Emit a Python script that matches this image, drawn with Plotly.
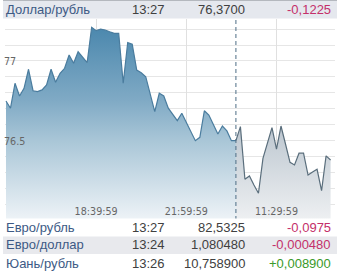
import plotly.graph_objects as go

W, H = 339, 276

# ---- data -------------------------------------------------------------
slot_index = list(range(73))  # 10-minute slots
usd_rub = [76.748, 76.703, 76.860, 76.780, 76.828, 76.948, 76.813, 76.807, 76.818, 76.849,
           76.948, 76.866, 76.923, 76.954, 77.038, 76.986, 77.058, 77.023, 76.989, 77.212,
           77.191, 77.200, 77.195, 77.184, 77.174, 77.174, 76.860, 77.115, 77.105, 76.943,
           76.926, 76.901, 76.792, 76.681, 76.797, 76.780, 76.703, 76.664, 76.625, 76.671,
           76.612, 76.555, 76.499, 76.520, 76.687, 76.660, 76.601, 76.541, 76.591, 76.560,
           76.499, 76.499, 76.587, 76.256, 76.277, 76.220, 76.168, 76.388, 76.482, 76.581,
           76.445, 76.591, 76.478, 76.363, 76.346, 76.420, 76.420, 76.283, 76.302, 76.319,
           76.184, 76.403, 76.377]
day_split = 51
tick_slots = [0, 20, 40, 60]
tick_labels = ["", "18:39:59", "21:59:59", "11:29:59"]

pairs = ["Доллар/рубль", "Евро/рубль", "Евро/доллар", "Юань/рубль"]
times = ["13:27", "13:27", "13:24", "13:26"]
rates = ["76,3700", "82,5325", "1,080480", "10,758900"]
changes = ["-0,1225", "-0,0975", "-0,000480", "+0,008900"]


def px(x):
    return x / W


def py(y):
    return 1 - y / H


fig = go.Figure()

fig.add_trace(go.Scatter(
    x=slot_index[:day_split + 1], y=usd_rub[:day_split + 1],
    mode="lines", line=dict(color="#4a7c9e", width=1.2),
    fill="tozeroy",
    fillgradient=dict(type="vertical", start=76.0, stop=77.22,
                      colorscale=[[0, "#eef3f7"], [0.41, "#a9c6d7"],
                                  [0.615, "#80aac5"], [1, "#4a87ad"]]),
    hoverinfo="skip", showlegend=False))

fig.add_trace(go.Scatter(
    x=slot_index[day_split:], y=usd_rub[day_split:],
    mode="lines", line=dict(color="#5a6e7c", width=1.2),
    fill="tozeroy",
    fillgradient=dict(type="vertical", start=76.0, stop=77.22,
                      colorscale=[[0, "#eef0f2"], [0.41, "#c4cdd5"],
                                  [0.6, "#acb9c4"], [1, "#8fa4b4"]]),
    hoverinfo="skip", showlegend=False))

y_bot, y_top = 220, 19
shapes = [
    dict(type="line", xref="x", yref="paper", x0=day_split, x1=day_split,
         y0=py(y_bot), y1=py(y_top), line=dict(color="#4d6d85", width=1, dash="4px,3px"),
         layer="above"),
    # table cover under the chart
    dict(type="rect", xref="paper", yref="paper", x0=0, x1=1, y0=0, y1=py(218.5),
         fillcolor="white", line=dict(width=0), layer="above"),
    # header band
    dict(type="rect", xref="paper", yref="paper", x0=px(3), x1=px(337), y0=py(18.5), y1=py(0),
         fillcolor="#e5e8ee", line=dict(width=0), layer="above"),
    dict(type="line", xref="paper", yref="paper", x0=px(3), x1=px(337), y0=py(0.5), y1=py(0.5),
         line=dict(color="#b4b8be", width=1), layer="above"),
    # striped row
    dict(type="rect", xref="paper", yref="paper", x0=px(3), x1=px(337), y0=py(254), y1=py(236.5),
         fillcolor="#e8e9ed", line=dict(width=0), layer="above"),
]

row_y = [9.5, 227, 245, 263.3]
annotations = []
font_family = "Liberation Sans, Arial, sans-serif"
for i in range(len(pairs)):
    yy = py(row_y[i])
    chg_color = "#3a9a2a" if changes[i].startswith("+") else "#c4306a"
    annotations += [
        dict(x=px(4), y=yy, xref="paper", yref="paper", text=pairs[i], showarrow=False,
             xanchor="left", yanchor="middle", font=dict(family=font_family, size=13, color="#3d5a85")),
        dict(x=px(129.5), y=yy, xref="paper", yref="paper", text=times[i], showarrow=False,
             xanchor="left", yanchor="middle", font=dict(family=font_family, size=13, color="#404040")),
        dict(x=px(246.5), y=yy, xref="paper", yref="paper", text=rates[i], showarrow=False,
             xanchor="right", yanchor="middle", font=dict(family=font_family, size=13, color="#404040")),
        dict(x=px(333), y=yy, xref="paper", yref="paper", text=changes[i], showarrow=False,
             xanchor="right", yanchor="middle", font=dict(family=font_family, size=13, color=chg_color)),
    ]

tick_font = dict(family="DejaVu Sans", size=9.6, color="#666666")

fig.update_layout(
    width=W, height=H,
    margin=dict(l=0, r=0, t=0, b=0),
    paper_bgcolor="white", plot_bgcolor="white",
    shapes=shapes, annotations=annotations,
    xaxis=dict(domain=[px(5), px(335)], range=[-0.22, 72.98],
               tickmode="array", tickvals=tick_slots, ticktext=tick_labels,
               ticklabelposition="inside", ticks="", showline=False, zeroline=False,
               showgrid=True, gridcolor="#e0e0e0", gridwidth=1, tickfont=tick_font),
    yaxis=dict(domain=[py(y_bot), py(y_top)], range=[76.0, 77.264],
               tick0=76, dtick=0.5, ticklabelposition="inside", ticks="",
               ticklabelstandoff=-4, ticklabelshift=1,
               showline=False, zeroline=False, showgrid=True, gridcolor="#e6e6e6",
               minor=dict(dtick=0.1, tick0=76, showgrid=True, gridcolor="#e6e6e6"),
               tickfont=tick_font),
)

fig.write_html("out.html")
